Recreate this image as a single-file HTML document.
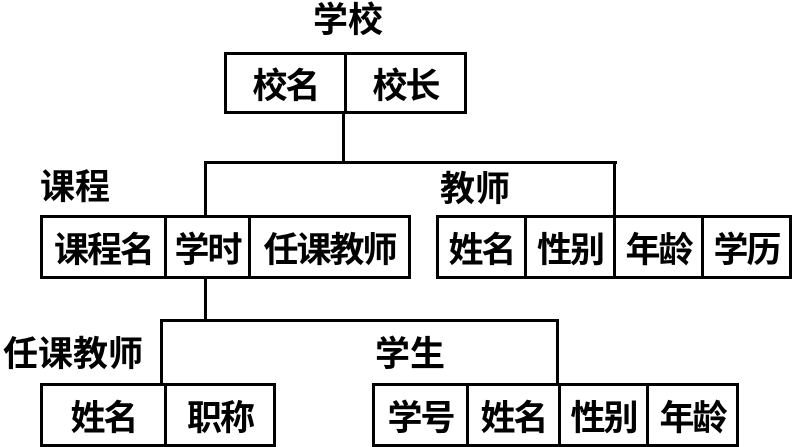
<!DOCTYPE html>
<html><head><meta charset="utf-8"><style>
body{margin:0;width:792px;height:447px;background:#fff;position:relative;overflow:hidden;font-family:"Liberation Sans","Noto Sans CJK SC",sans-serif;}
.b{position:absolute;border:3px solid #000;box-sizing:border-box;display:flex;}
.b div{height:100%;display:flex;align-items:center;justify-content:center;font-size:35px;font-weight:bold;border-right:3px solid #000;box-sizing:border-box;white-space:nowrap;letter-spacing:-2px}
.b div:last-child{border-right:none}
.l{position:absolute;background:#000}
.t{position:absolute;font-size:35px;line-height:35px;white-space:nowrap;font-weight:bold}
</style></head><body>
<div class="t" style="left:313px;top:3px">学校</div>
<div class="b" style="left:224px;top:52px;width:243px;height:62px"><div style="width:120px">校名</div><div style="flex:1">校长</div></div>
<div class="l" style="left:342px;top:113px;width:3px;height:50px"></div>
<div class="l" style="left:204px;top:161px;width:413px;height:3px"></div>
<div class="l" style="left:204px;top:161px;width:3px;height:55px"></div>
<div class="l" style="left:613px;top:161px;width:3px;height:55px"></div>
<div class="t" style="left:40px;top:170px">课程</div>
<div class="t" style="left:440px;top:172px">教师</div>
<div class="b" style="left:40px;top:215px;width:371px;height:64px"><div style="width:124px">课程名</div><div style="width:84px">学时</div><div style="flex:1">任课教师</div></div>
<div class="b" style="left:436px;top:215px;width:356px;height:64px"><div style="width:88px">姓名</div><div style="width:89px">性别</div><div style="width:88px">年龄</div><div style="flex:1">学历</div></div>
<div class="l" style="left:204px;top:278px;width:3px;height:43px"></div>
<div class="l" style="left:160px;top:319px;width:399px;height:3px"></div>
<div class="l" style="left:160px;top:319px;width:3px;height:65px"></div>
<div class="l" style="left:556px;top:319px;width:3px;height:65px"></div>
<div class="t" style="left:3px;top:337px">任课教师</div>
<div class="t" style="left:375px;top:337px">学生</div>
<div class="b" style="left:40px;top:383px;width:236px;height:64px"><div style="width:124px">姓名</div><div style="flex:1">职称</div></div>
<div class="b" style="left:372px;top:383px;width:367px;height:64px"><div style="width:94px">学号</div><div style="width:92px">姓名</div><div style="width:88px">性别</div><div style="flex:1">年龄</div></div>
</body></html>
